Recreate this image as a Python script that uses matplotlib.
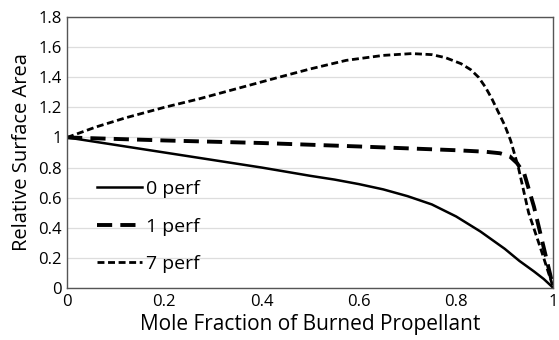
import matplotlib.pyplot as plt
from matplotlib.ticker import FuncFormatter

## Data

x0 = [0, 0.1, 0.2, 0.3, 0.4, 0.5, 0.55, 0.6, 0.65, 0.7, 0.75, 0.8, 0.85, 0.9, 0.93, 0.96, 0.98, 1.0]
y0 = [1, 0.95, 0.9, 0.85, 0.80, 0.745, 0.72, 0.69, 0.655, 0.61, 0.555, 0.475, 0.375, 0.26, 0.18, 0.11, 0.06, 0]

x1 = [0, 0.2, 0.4, 0.6, 0.8, 0.86, 0.89, 0.91, 0.925, 0.94, 0.96, 0.98, 1.0]
y1 = [1, 0.98, 0.963, 0.94, 0.915, 0.905, 0.895, 0.875, 0.83, 0.76, 0.54, 0.27, 0]

x7 = [0, 0.06, 0.12, 0.2, 0.27, 0.35, 0.43, 0.5, 0.574, 0.65, 0.709, 0.75, 0.778, 0.81,
      0.83, 0.846, 0.86, 0.873, 0.9, 0.912, 0.928, 0.949, 0.975, 1.0]
y7 = [1, 1.07, 1.13, 1.2, 1.255, 1.325, 1.395, 1.455, 1.512, 1.545, 1.557, 1.55, 1.53, 1.49,
      1.45, 1.40, 1.335, 1.26, 1.08, 0.98, 0.80, 0.50, 0.25, 0]

labels = ["0 perf", "1 perf", "7 perf"]

plt.rcParams['font.family'] = ['Open Sans', 'DejaVu Sans']

fig = plt.figure(figsize=(5.59, 3.40), dpi=100)
ax = fig.add_axes([0.12, 0.153, 0.87, 0.797])

ax.plot(x0, y0, color='black', lw=1.8, label=labels[0])
ax.plot(x1, y1, color='black', lw=2.8, dashes=(3.9, 2.1), label=labels[1])
ax.plot(x7, y7, color='black', lw=2.0, dashes=(2.5, 1.3), label=labels[2])

ax.set_xlim(0, 1)
ax.set_ylim(0, 1.8)
ax.set_yticks([0, 0.2, 0.4, 0.6, 0.8, 1, 1.2, 1.4, 1.6, 1.8])
ax.set_xticks([0, 0.2, 0.4, 0.6, 0.8, 1])
fmt = FuncFormatter(lambda v, p: "%g" % round(v, 2))
ax.xaxis.set_major_formatter(fmt)
ax.yaxis.set_major_formatter(fmt)
ax.tick_params(length=0, labelsize=12, pad=4)
ax.grid(True, axis='y', color='#dddddd', lw=0.9)
ax.set_axisbelow(True)
for s in ax.spines.values():
    s.set_color('#555555')
    s.set_linewidth(1.0)

ax.set_xlabel("Mole Fraction of Burned Propellant", fontsize=15, labelpad=3)
ax.set_ylabel("Relative Surface Area", fontsize=14.5, labelpad=4)

ax.legend(loc='lower left', bbox_to_anchor=(0.025, -0.01), frameon=False, fontsize=14,
          handlelength=2.35, handletextpad=0.2, labelspacing=1.0)

fig.savefig("out.png", dpi=100)
